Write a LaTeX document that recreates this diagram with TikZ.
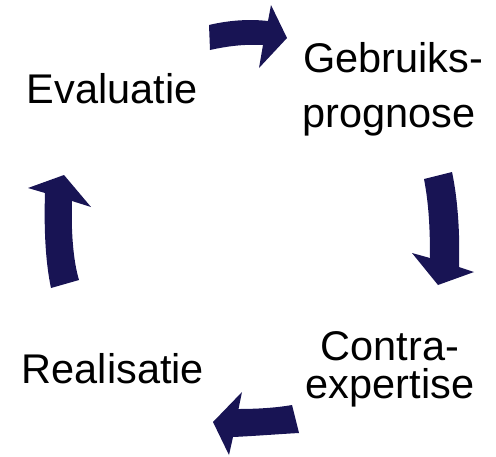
\documentclass[tikz,border=0pt]{standalone}
\usepackage{fontspec}
\setmainfont{Liberation Sans}
\definecolor{navy}{RGB}{24,20,84}
\begin{document}
\begin{tikzpicture}[x=1pt,y=-1pt,
  lbl/.style={inner sep=0pt, font=\fontsize{41.5}{41.5}\selectfont, text=black},
  blockarrow/.style={fill=navy, draw=none}]
\useasboundingbox (0,0) rectangle (496,456);
% labels
\node[lbl, anchor=base] (eval) at (112,103) {Evaluatie};
\node[lbl, anchor=base west] (gebr1) at (303,72) {Gebruiks-};
\node[lbl, anchor=base west] (gebr2) at (302,127) {prognose};
\node[lbl, anchor=base] (contra1) at (390,360) {Contra-};
\node[lbl, anchor=base] (contra2) at (390,398) {expertise};
\node[lbl, anchor=base] (real) at (113,383) {Realisatie};
% top arrow (Evaluatie -> Gebruiksprognose)
\fill[blockarrow] (209,25) .. controls (230,20) and (250,19) .. (268,21)
  -- (271,5) -- (287,38) -- (259,68) -- (263,45)
  .. controls (245,44) and (228,46) .. (210,50) -- cycle;
% right arrow (Gebruiksprognose -> Contra-expertise)
\fill[blockarrow] (424,179) .. controls (429,205) and (430,230) .. (430,258)
  -- (412,253) -- (438,285) -- (474,272) -- (459,267)
  .. controls (460,235) and (458,200) .. (452,172) -- cycle;
% bottom arrow (Contra-expertise -> Realisatie)
\fill[blockarrow] (292,405) .. controls (275,408) and (255,409) .. (238.5,409)
  -- (242,392) -- (213,422) -- (229,455) -- (233,437)
  .. controls (255,436) and (280,434) .. (299,433) -- cycle;
% left arrow (Realisatie -> Evaluatie)
\fill[blockarrow] (51,288) .. controls (45,260) and (44,225) .. (45,193)
  -- (28,188) -- (64,175) -- (91,207) -- (72,201)
  .. controls (71,230) and (73,260) .. (79,280) -- cycle;
\end{tikzpicture}
\end{document}
